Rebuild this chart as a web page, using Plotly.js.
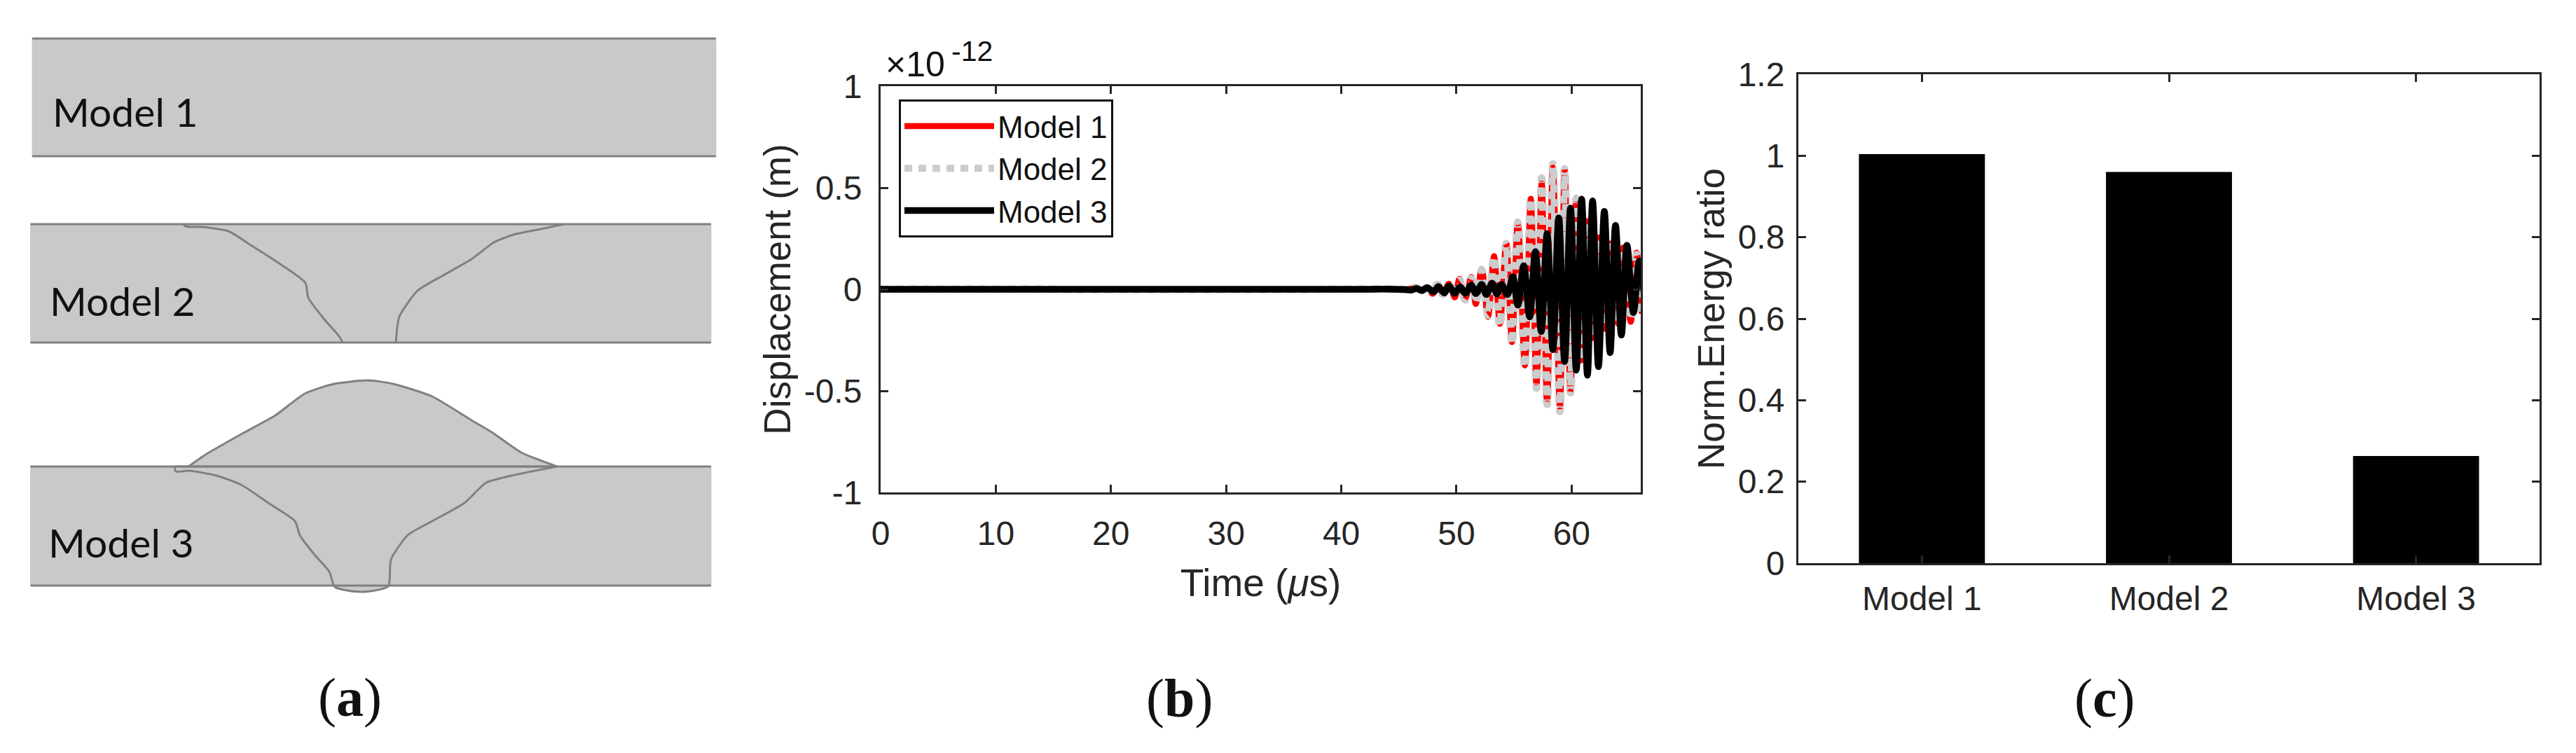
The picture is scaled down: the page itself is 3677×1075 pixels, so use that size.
<!DOCTYPE html>
<html><head><meta charset="utf-8">
<script src="https://cdn.plot.ly/plotly-3.0.1.min.js"></script>
<style>html,body{margin:0;padding:0;background:#fff}#c{width:3677px;height:1075px}</style>
</head><body><div id="c"></div>
<script>
// Panel (a): sketch outlines, in sketch units
const rect1X=[46,1022,1022,46,46], rect1Y=[55,55,223,223,55];
const rect2X=[43.5,1015,1015,43.5,43.5], rect2Y=[320,320,489,489,320];
const rect3X=[43.5,1015,1015,43.5,43.5], rect3Y=[666,666,836,836,666];
const weld2LX=[262,270,288,326,358,400,436,440,463,484,489];
const weld2LY=[322,324,324,330,350,377,404,425,456,480,489];
const weld2RX=[565,570,596,631,673,705,733,772,805];
const weld2RY=[489,452,415,394,370,346,335,327,320];
const crownX=[269,295,344,393,435,477,526,561,617,673,702,744,795];
const crownY=[666,648,620,593,562,548,543,548,566,600,617,646,666];
const rootX=[249,251,270,309,344,386,421,428,449,470,478,516,554,558,582,617,663,694,730,795];
const rootY=[665,673,672,679,692,720,744,764,792,816,838,845,837,799,764,744,718,689,679,666];
const jointX=[249,795], jointY=[666,666];
const panelLabels=["Model 1","Model 2","Model 3"];
const panelLabelX=[73,69,67], panelLabelY=[159,429,774];

// Panel (b): wave extrema, time in microseconds, displacement in 1e-12 m
const timeModel1=[0,42,44,45.5,46.51,46.96,47.42,47.93,48.34,48.84,49.35,49.86,50.26,50.77,51.28,51.68,52.19,52.74,53.26,53.77,54.32,54.82,55.33,55.94,56.45,56.95,57.40,57.87,58.37,58.98,59.39,59.90,60.40,60.81,61.31,61.82,62.37,62.84,63.34,64.05,64.46,65.13,65.63,66.1];
const dispModel1=[0,0,0.001,-0.002,0.006,-0.008,0.010,-0.022,0.020,-0.020,0.028,-0.040,0.052,-0.045,0.060,-0.072,0.100,-0.135,0.163,-0.170,0.228,-0.260,0.333,-0.375,0.446,-0.475,0.530,-0.565,0.600,-0.585,0.590,-0.500,0.450,-0.350,0.335,-0.240,0.255,-0.195,0.225,-0.170,0.205,-0.160,0.180,-0.120];
const timeModel2=[0,42,44,45.5,46.51,46.96,47.42,47.93,48.34,48.84,49.35,49.86,50.26,50.77,51.28,51.68,52.19,52.74,53.26,53.77,54.32,54.82,55.33,55.94,56.45,56.95,57.40,57.87,58.37,58.98,59.39,59.90,60.40,60.81,61.31,61.82,62.37,62.84,63.34,64.05,64.46,65.13,65.63,66.1];
const dispModel2=[0,0,0.001,-0.002,0.009,-0.005,0.009,-0.015,0.024,-0.024,0.021,-0.032,0.044,-0.052,0.053,-0.067,0.095,-0.127,0.159,-0.179,0.225,-0.268,0.329,-0.383,0.444,-0.486,0.547,-0.566,0.616,-0.601,0.593,-0.509,0.446,-0.348,0.323,-0.233,0.243,-0.176,0.208,-0.158,0.197,-0.147,0.170,-0.110];
const timeModel3=[0,42,44,45.5,46.10,46.51,47.02,47.46,48.03,48.44,48.94,49.35,49.86,50.32,50.77,51.28,51.68,52.19,52.59,53.10,53.51,53.91,54.42,54.89,55.33,55.84,56.35,56.85,57.36,57.87,58.37,58.88,59.39,59.90,60.40,60.87,61.37,61.82,62.33,62.84,63.34,63.81,64.32,64.80,65.37,65.87,66.4];
const dispModel3=[0,0,0.001,-0.001,-0.004,0.004,-0.006,0.008,-0.012,0.014,-0.018,0.016,-0.020,0.012,-0.020,0.021,-0.021,0.024,-0.026,0.030,-0.023,0.024,-0.026,0.062,-0.078,0.116,-0.136,0.185,-0.208,0.274,-0.297,0.352,-0.356,0.400,-0.398,0.444,-0.423,0.435,-0.381,0.384,-0.312,0.315,-0.225,0.216,-0.115,0.139,-0.090];
const timeTicks=[0,10,20,30,40,50,60];
const dispTicks=[-1,-0.5,0,0.5,1], dispTickText=["-1","-0.5","0","0.5","1"];

// Panel (c)
const models=["Model 1","Model 2","Model 3"];
const energy=[1.004,0.96,0.263];
const energyTicks=[0,0.2,0.4,0.6,0.8,1,1.2], energyTickText=["0","0.2","0.4","0.6","0.8","1","1.2"];

const W=3677,H=1075, AX="#262626", SANS="'Liberation Sans', Arial, sans-serif", GREY="#c9c9c9", EDGE="#808080";
const sk=(x,y,extra)=>Object.assign({x,y,xaxis:'x3',yaxis:'y3',mode:'lines',showlegend:false,hoverinfo:'skip'},extra);
const fillT=(x,y)=>sk(x,y,{fill:'toself',fillcolor:GREY,line:{color:GREY,width:1}});
const edge=(x,y)=>sk(x,y,{line:{color:EDGE,width:3}});
const weld=(x,y)=>sk(x,y,{line:{color:EDGE,width:3,shape:'spline',smoothing:0.6}});
const traces=[
 fillT(rect1X,rect1Y),fillT(rect2X,rect2Y),fillT(crownX,crownY),fillT(rootX,rootY),fillT(rect3X,rect3Y),
 edge(rect1X.slice(0,2),rect1Y.slice(0,2)),edge(rect1X.slice(2,4),rect1Y.slice(2,4)),
 edge(rect2X.slice(0,2),rect2Y.slice(0,2)),edge(rect2X.slice(2,4),rect2Y.slice(2,4)),
 edge(rect3X.slice(0,2),rect3Y.slice(0,2)),edge(rect3X.slice(2,4),rect3Y.slice(2,4)),
 weld(weld2LX,weld2LY),weld(weld2RX,weld2RY),weld(crownX,crownY),weld(rootX,rootY),edge(jointX,jointY),
 {x:timeModel1,y:dispModel1,name:"Model 1",mode:'lines',line:{color:'#ff0000',width:8.5,shape:'spline',smoothing:1},xaxis:'x',yaxis:'y',hoverinfo:'skip'},
 {x:timeModel2,y:dispModel2,name:"Model 2",mode:'lines',line:{color:'#cccccc',width:11,dash:'11px,9px',shape:'spline',smoothing:1},xaxis:'x',yaxis:'y',hoverinfo:'skip'},
 {x:timeModel3,y:dispModel3,name:"Model 3",mode:'lines',line:{color:'#000000',width:9.5,shape:'spline',smoothing:1},xaxis:'x',yaxis:'y',hoverinfo:'skip'},
 {type:'bar',x:models,y:energy,width:0.51,marker:{color:'#000',line:{width:0}},xaxis:'x2',yaxis:'y2',showlegend:false,hoverinfo:'skip'}
];
const axisBase={showline:true,linecolor:AX,linewidth:3,mirror:'allticks',ticks:'inside',ticklen:11,tickwidth:3,tickcolor:AX,showgrid:false,zeroline:false,
  tickfont:{family:SANS,size:48,color:AX},fixedrange:true};
const ann=(text,x,y,size,family,xanchor)=>({text,x:x/W,y:1-y/H,xref:'paper',yref:'paper',showarrow:false,xanchor:xanchor||'center',yanchor:'middle',font:{family,size,color:'#111'}});
const layout={width:W,height:H,margin:{l:0,r:0,t:0,b:0},paper_bgcolor:'#fff',plot_bgcolor:'rgba(0,0,0,0)',autosize:false,
 xaxis:Object.assign({},axisBase,{domain:[1257/W,2342/W],range:[0,66],tickmode:'array',tickvals:timeTicks,ticktext:timeTicks.map(String),anchor:'y',ticklabelstandoff:14,
   title:{text:"Time (<i>μ</i>s)",font:{family:SANS,size:55,color:AX},standoff:26}}),
 yaxis:Object.assign({},axisBase,{domain:[1-703/H,1-123/H],range:[-1,1],tickmode:'array',tickvals:dispTicks,ticktext:dispTickText,anchor:'x',ticklabelstandoff:14,
   title:{text:"Displacement (m)",font:{family:SANS,size:53,color:AX},standoff:3}}),
 xaxis2:Object.assign({},axisBase,{domain:[2567/W,3625/W],range:[-0.5,2.5],type:'category',categoryorder:'array',categoryarray:models,anchor:'y2',ticklabelstandoff:6}),
 yaxis2:Object.assign({},axisBase,{domain:[1-804/H,1-106/H],range:[0,1.2],tickmode:'array',tickvals:energyTicks,ticktext:energyTickText,anchor:'x2',ticklabelstandoff:7,
   title:{text:"Norm.Energy ratio",font:{family:SANS,size:53,color:AX},standoff:3}}),
 xaxis3:{domain:[0,1100/W],range:[0,1100],visible:false,anchor:'y3',fixedrange:true},
 yaxis3:{domain:[0,1],range:[1075,0],visible:false,anchor:'x3',fixedrange:true},
 legend:{x:1283/W,y:1-142/H,xanchor:'left',yanchor:'top',bgcolor:'#fff',bordercolor:'#111',borderwidth:3,font:{family:SANS,size:44,color:'#111'},itemwidth:128,entrywidth:178,entrywidthmode:'pixels',tracegroupgap:0,itemclick:false,itemdoubleclick:false},
 annotations:[
  ...panelLabels.map((t,i)=>ann(t,panelLabelX[i],panelLabelY[i],57,"Lato, 'Open Sans', sans-serif",'left')),
  ann("×10",1262,92,50,SANS,'left'),
  ann("-12",1356,73,41,SANS,'left'),
  ann("(<b>a</b>)",499,995,78,"'Liberation Serif', serif"),
  ann("(<b>b</b>)",1683,996,78,"'Liberation Serif', serif"),
  ann("(<b>c</b>)",3004,996,78,"'Liberation Serif', serif")
 ]
};
Plotly.newPlot('c',traces,layout,{staticPlot:true,displayModeBar:false});
</script></body></html>
